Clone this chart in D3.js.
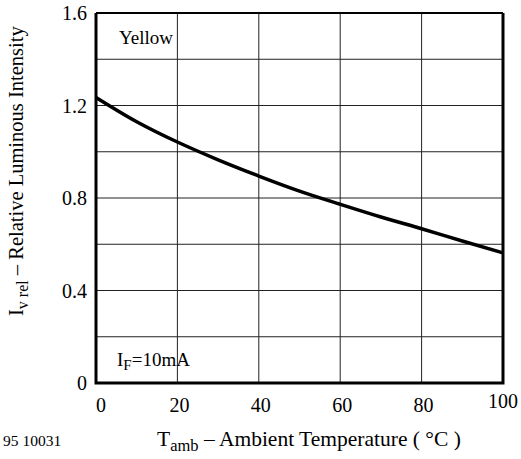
<!DOCTYPE html>
<html><head><meta charset="utf-8">
<script src="https://cdn.jsdelivr.net/npm/d3@7/dist/d3.min.js"></script>
<style>body{margin:0;background:#fff}svg{display:block}</style>
</head><body><svg id="c" width="521" height="459" font-family="'Liberation Serif', 'DejaVu Serif', serif"></svg>
<script>
const temps = [0, 10, 20, 30, 40, 50, 60, 70, 80, 90, 100];
const intensity = [1.235, 1.13, 1.042, 0.965, 0.895, 0.83, 0.773, 0.718, 0.667, 0.614, 0.563];
const xTicks = [0, 20, 40, 60, 80, 100];
const yTicks = [0, 0.4, 0.8, 1.2, 1.6];
const yGrid = [0.2, 0.4, 0.6, 0.8, 1.0, 1.2, 1.4];

const svg = d3.select("#c");
const L = 96, R = 503, T = 13, B = 383;
const x = d3.scaleLinear().domain([0, 100]).range([L, R]);
const y = d3.scaleLinear().domain([0, 1.6]).range([B, T]);

// grid
svg.append("g").selectAll("line").data(yGrid).join("line")
  .attr("x1", L).attr("x2", R).attr("y1", d => y(d)).attr("y2", d => y(d))
  .attr("stroke", "#222").attr("stroke-width", 1);
svg.append("g").selectAll("line").data(xTicks.slice(1, -1)).join("line")
  .attr("y1", T).attr("y2", B).attr("x1", d => x(d)).attr("x2", d => x(d))
  .attr("stroke", "#222").attr("stroke-width", 1);

// frame
svg.append("line").attr("x1", L).attr("x2", R).attr("y1", T).attr("y2", T).attr("stroke", "#000").attr("stroke-width", 2);
svg.append("path").attr("d", `M${L},${T}V${B}H${R}V${T}`).attr("fill", "none").attr("stroke", "#000").attr("stroke-width", 3);

// curve
const line = d3.line().x((d, i) => x(temps[i])).y(d => y(d)).curve(d3.curveMonotoneX);
svg.append("path").datum(intensity).attr("d", line).attr("fill", "none").attr("stroke", "#000").attr("stroke-width", 3.5);

// y tick labels
svg.append("g").selectAll("text").data(yTicks).join("text")
  .attr("x", 87).attr("y", d => y(d) + 7).attr("text-anchor", "end")
  .attr("font-size", 20).text(d => d === 0 ? "0" : d.toFixed(1));

// x tick labels
svg.append("g").selectAll("text").data(xTicks).join("text")
  .attr("x", d => x(d) + (d === 0 ? 5 : (d === 100 ? 0 : 2)))
  .attr("y", d => d === 100 ? 408 : 412).attr("text-anchor", "middle")
  .attr("font-size", 20).text(d => d);

// annotations
svg.append("text").attr("x", 119).attr("y", 44).attr("font-size", 19).text("Yellow");
const t2 = svg.append("text").attr("x", 117).attr("y", 366).attr("font-size", 19);
t2.append("tspan").text("I");
t2.append("tspan").attr("font-size", 15).attr("dy", 4).text("F");
t2.append("tspan").attr("dy", -4).text("=10mA");

// x axis title
const xt = svg.append("text").attr("x", 157).attr("y", 446).attr("font-size", 21.5);
xt.append("tspan").text("T");
xt.append("tspan").attr("font-size", 16.5).attr("dy", 5).text("amb");
xt.append("tspan").attr("dy", -5).text(" – Ambient Temperature ( °C )");

svg.append("text").attr("x", 3).attr("y", 446).attr("font-size", 15.5).text("95 10031");

// y axis title
const yt = svg.append("text").attr("transform", "translate(23,316) rotate(-90)").attr("font-size", 20.5);
yt.append("tspan").text("I");
yt.append("tspan").attr("font-size", 16).attr("dy", 5).text("v rel");
yt.append("tspan").attr("dy", -5).text("  – Relative Luminous Intensity");
</script></body></html>
